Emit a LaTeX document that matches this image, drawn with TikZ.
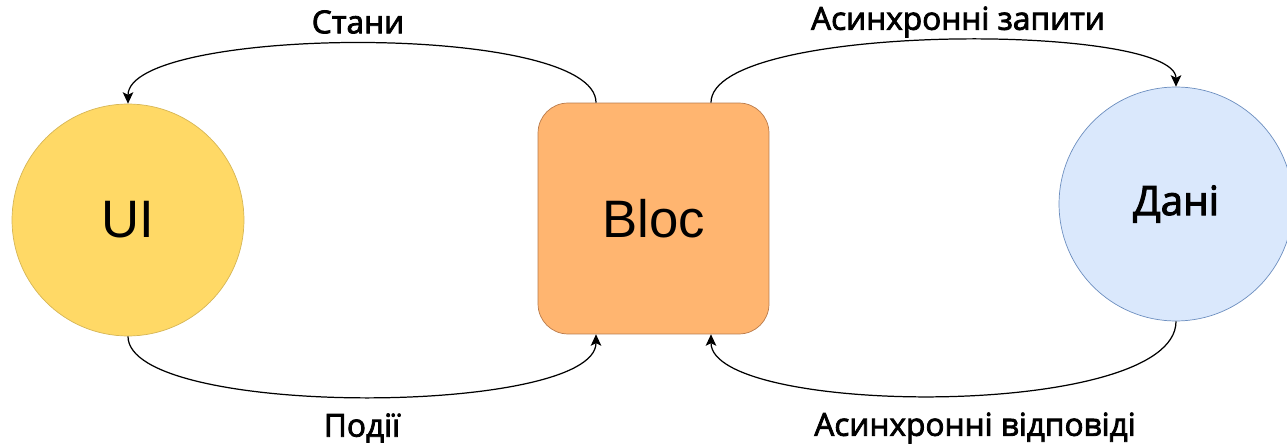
\documentclass[tikz,border=0pt]{standalone}
\usepackage{fontspec}
\setmainfont{Liberation Sans}
\newfontfamily\lblfont[FakeBold=2.5]{Open Sans}
\usetikzlibrary{shapes.geometric, arrows.meta}

\definecolor{uifill}{HTML}{FFD966}
\definecolor{uiline}{HTML}{D6B656}
\definecolor{blocfill}{HTML}{FFB570}
\definecolor{blocline}{HTML}{B97A4A}
\definecolor{datafill}{HTML}{DAE8FC}
\definecolor{dataline}{HTML}{6C8EBF}

\tikzset{
  flowarrow/.style={draw=black, line width=0.7pt, -{Stealth[length=6.5pt, width=6pt, inset=1.5pt]}},
  flowlabel/.style={font=\lblfont\fontsize{18}{22}\selectfont, inner sep=0pt},
  bignode/.style={font=\fontsize{30}{36}\selectfont, inner sep=0pt},
}

\begin{document}
\begin{tikzpicture}[x=0.02cm, y=-0.02cm]
\useasboundingbox (0,0) rectangle (1287,445);

\node[bignode, circle, fill=uifill, draw=uiline, minimum size=4.64cm] (ui) at (128,220) {UI};
\node[bignode, rectangle, rounded corners=0.6cm, fill=blocfill, draw=blocline,
      minimum width=4.62cm, minimum height=4.62cm] (bloc) at (653.5,218.5) {Bloc};
\node[circle, fill=datafill, draw=dataline, minimum size=4.68cm, inner sep=0pt,
      font=\lblfont\fontsize{23}{28}\selectfont] (dani) at (1176,204) {Дані};

\draw[flowarrow] ([xshift=-1.15cm]bloc.north) .. controls +(0,-81) and +(0,-78) .. (ui.north);
\draw[flowarrow] ([xshift=1.15cm]bloc.north) .. controls +(0,-81) and +(0,-64) .. (dani.north);
\draw[flowarrow] (ui.south) .. controls +(0,82) and +(0,82) .. ([xshift=-1.15cm]bloc.south);
\draw[flowarrow] (dani.south) .. controls +(0,99) and +(0,82) .. ([xshift=1.15cm]bloc.south);

\node[flowlabel] (stany) at (358,22) {Стани};
\node[flowlabel] (zapyty) at (958,22) {Асинхронні запити};
\node[flowlabel] (podii) at (362,428) {Події};
\node[flowlabel] (vidpovidi) at (975,428) {Асинхронні відповіді};
\end{tikzpicture}
\end{document}
